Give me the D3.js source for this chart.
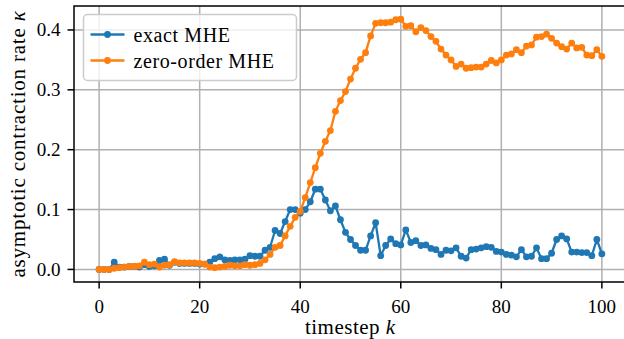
<!DOCTYPE html>
<html>
<head>
<meta charset="utf-8">
<script src="https://cdn.jsdelivr.net/npm/d3@7"></script>
<style>
    body { margin: 0; background: #fff; }
    text { font-family: "Liberation Serif", "DejaVu Serif", serif; fill: #000; }
</style>
</head>
<body>
<div id="chart"></div>
<script>
// data
const timesteps = d3.range(0, 101);

const exactMHE = [
    0, 0, 0, 0.012, 0.004, 0.004, 0.005, 0.005, 0.004, 0.008,
    0.005, 0.006, 0.015, 0.017, 0.007, 0.012, 0.010, 0.010, 0.010, 0.010,
    0.009, 0.009, 0.012, 0.018, 0.021, 0.016, 0.015, 0.016, 0.016, 0.017,
    0.023, 0.022, 0.022, 0.032, 0.037, 0.065, 0.060, 0.080, 0.100, 0.100,
    0.094, 0.100, 0.113, 0.134, 0.134, 0.116, 0.098, 0.106, 0.083, 0.062,
    0.050, 0.040, 0.032, 0.032, 0.056, 0.078, 0.023, 0.040, 0.051, 0.043,
    0.041, 0.066, 0.045, 0.048, 0.040, 0.041, 0.035, 0.033, 0.025, 0.032,
    0.031, 0.036, 0.022, 0.019, 0.033, 0.034, 0.036, 0.038, 0.037, 0.030,
    0.029, 0.025, 0.024, 0.021, 0.033, 0.021, 0.022, 0.036, 0.018, 0.018,
    0.027, 0.050, 0.056, 0.051, 0.029, 0.029, 0.028, 0.028, 0.023, 0.050,
    0.026
];

const zeroOrderMHE = [
    0, 0, 0, 0.002, 0.003, 0.004, 0.005, 0.005, 0.006, 0.012,
    0.008, 0.009, 0.004, 0.007, 0.008, 0.013, 0.011, 0.011, 0.011, 0.011,
    0.010, 0.009, 0.004, 0.003, 0.004, 0.005, 0.007, 0.006, 0.006, 0.008,
    0.007, 0.008, 0.010, 0.016, 0.025, 0.037, 0.040, 0.056, 0.072, 0.087,
    0.097, 0.120, 0.145, 0.170, 0.194, 0.214, 0.232, 0.264, 0.282, 0.297,
    0.318, 0.336, 0.351, 0.362, 0.390, 0.411, 0.412, 0.412, 0.413, 0.417,
    0.418, 0.406, 0.407, 0.397, 0.404, 0.399, 0.389, 0.381, 0.368, 0.358,
    0.350, 0.339, 0.343, 0.336, 0.337, 0.338, 0.338, 0.343, 0.349, 0.345,
    0.350, 0.358, 0.360, 0.367, 0.362, 0.373, 0.375, 0.388, 0.389, 0.393,
    0.386, 0.378, 0.372, 0.368, 0.378, 0.370, 0.371, 0.358, 0.357, 0.367,
    0.356
];

const xTicks = [0, 20, 40, 60, 80, 100];
const yTicks = [0.0, 0.1, 0.2, 0.3, 0.4];
const seriesNames = ["exact MHE", "zero-order MHE"];
const seriesColors = ["#1f77b4", "#ff7f0e"];

drawChart();

function drawChart(){

    // dimensions of the page and the axes box
    var width = 624,
        height = 339,
        margin = {top: 6, right: -3, bottom: 57, left: 74};

    let svg = d3.select("#chart")
        .append("svg")
        .attr("width", width)
        .attr("height", height);

    // scales (matplotlib style 5% padding)
    var xScale = d3.scaleLinear()
        .domain([-5, 105])
        .range([margin.left, width - margin.right]);
    var yScale = d3.scaleLinear()
        .domain([-0.021, 0.440])
        .range([height - margin.bottom, margin.top]);

    var left = margin.left,
        right = width - margin.right,
        top = margin.top,
        bottom = height - margin.bottom;

    // grid
    svg.append("g")
        .selectAll("line")
        .data(xTicks)
        .enter()
        .append("line")
        .attr("x1", d => xScale(d))
        .attr("x2", d => xScale(d))
        .attr("y1", top)
        .attr("y2", bottom)
        .attr("stroke", "#b0b0b0")
        .attr("stroke-width", 1.5);
    svg.append("g")
        .selectAll("line")
        .data(yTicks)
        .enter()
        .append("line")
        .attr("x1", left)
        .attr("x2", right)
        .attr("y1", d => yScale(d))
        .attr("y2", d => yScale(d))
        .attr("stroke", "#b0b0b0")
        .attr("stroke-width", 1.5);

    // clip for data
    svg.append("clipPath")
        .attr("id", "clip")
        .append("rect")
        .attr("x", left)
        .attr("y", top)
        .attr("width", right - left)
        .attr("height", bottom - top);

    const line = d3.line()
        .x((d, i) => xScale(timesteps[i]))
        .y(d => yScale(d));

    var series = [exactMHE, zeroOrderMHE];
    series.forEach((values, s) => {
        let g = svg.append("g").attr("clip-path", "url(#clip)");
        g.append("path")
            .datum(values)
            .attr("d", line)
            .attr("fill", "none")
            .attr("stroke", seriesColors[s])
            .attr("stroke-width", 2.3)
            .attr("stroke-linejoin", "round");
        g.selectAll("circle")
            .data(values)
            .enter()
            .append("circle")
            .attr("cx", (d, i) => xScale(timesteps[i]))
            .attr("cy", d => yScale(d))
            .attr("r", 3.4)
            .attr("fill", seriesColors[s]);
    });

    // spines
    svg.append("rect")
        .attr("x", left)
        .attr("y", top)
        .attr("width", right - left)
        .attr("height", bottom - top)
        .attr("fill", "none")
        .attr("stroke", "#000")
        .attr("stroke-width", 1.5);

    // x ticks
    var xt = svg.append("g")
        .selectAll("g")
        .data(xTicks)
        .enter()
        .append("g")
        .attr("transform", d => "translate(" + xScale(d) + "," + bottom + ")");
    xt.append("line")
        .attr("y2", 6.5)
        .attr("stroke", "#000")
        .attr("stroke-width", 1.5);
    xt.append("text")
        .attr("y", 31)
        .attr("text-anchor", "middle")
        .style("font-size", "19px")
        .text(d => d);

    // y ticks
    var yt = svg.append("g")
        .selectAll("g")
        .data(yTicks)
        .enter()
        .append("g")
        .attr("transform", d => "translate(" + left + "," + yScale(d) + ")");
    yt.append("line")
        .attr("x2", -6.5)
        .attr("stroke", "#000")
        .attr("stroke-width", 1.5);
    yt.append("text")
        .attr("x", -13.5)
        .attr("y", 6.5)
        .attr("text-anchor", "end")
        .style("font-size", "19px")
        .text(d => d.toFixed(1));

    // axis labels
    var xl = svg.append("text")
        .attr("x", (left + 626.6) / 2)
        .attr("y", 334)
        .attr("text-anchor", "middle")
        .style("font-size", "21px")
        .style("letter-spacing", "0.5px");
    xl.append("tspan").text("timestep ");
    xl.append("tspan").style("font-style", "italic").text("k");

    var yl = svg.append("text")
        .attr("transform", "translate(25," + (top + bottom) / 2 + ") rotate(-90)")
        .attr("text-anchor", "middle")
        .style("font-size", "21px")
        .style("letter-spacing", "0.8px");
    yl.append("tspan").text("asymptotic contraction rate ");
    yl.append("tspan").style("font-style", "italic").text("κ");

    // legend
    var legend = svg.append("g")
        .attr("transform", "translate(83.5,14.5)");
    legend.append("rect")
        .attr("width", 213)
        .attr("height", 66)
        .attr("rx", 4)
        .attr("fill", "#fff")
        .attr("fill-opacity", 0.8)
        .attr("stroke", "#cccccc")
        .attr("stroke-width", 1.5);
    seriesNames.forEach((name, i) => {
        let row = legend.append("g")
            .attr("transform", "translate(0," + (20 + i * 26) + ")");
        row.append("line")
            .attr("x1", 7)
            .attr("x2", 41)
            .attr("stroke", seriesColors[i])
            .attr("stroke-width", 2.3);
        row.append("circle")
            .attr("cx", 24)
            .attr("r", 3.4)
            .attr("fill", seriesColors[i]);
        row.append("text")
            .attr("x", 50)
            .attr("y", 7)
            .style("font-size", "20px")
            .style("letter-spacing", "0.6px")
            .text(name);
    });
}
</script>
</body>
</html>
